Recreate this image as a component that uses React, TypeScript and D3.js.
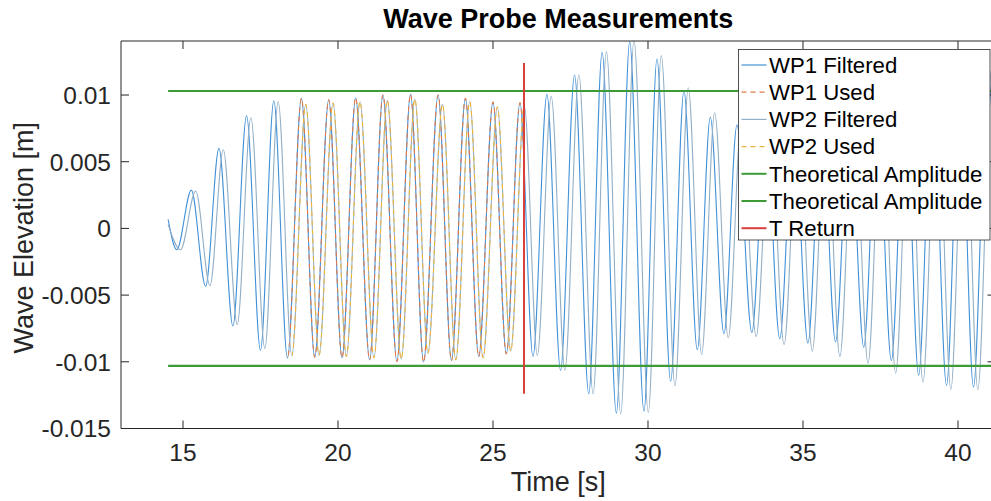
import React from 'react';
import * as d3 from 'd3';

// ---- Data ----
// WP1 filtered: start point followed by successive troughs / crests
const wp1Times = [14.52, 14.80, 15.27, 15.73, 16.16, 16.61, 17.05, 17.50, 17.93, 18.37, 18.82, 19.25, 19.70, 20.13, 20.57, 21.02, 21.45, 21.90, 22.34, 22.76, 23.23, 23.66, 24.11, 24.54, 25.00, 25.43, 25.87, 26.29, 26.74, 27.18, 27.63, 28.09, 28.52, 28.98, 29.41, 29.87, 30.29, 30.73, 31.16, 31.59, 32.01, 32.45, 32.87, 33.35, 33.80, 34.25, 34.70, 35.16, 35.60, 36.05, 36.50, 36.96, 37.40, 37.85, 38.30, 38.73, 39.18, 39.63, 40.07, 40.50, 40.95, 41.40];
const wp1Values = [0.00067, -0.0016, 0.00287, -0.00434, 0.0060, -0.00732, 0.00845, -0.00914, 0.00957, -0.00972, 0.00975, -0.00965, 0.00965, -0.0097, 0.0098, -0.00985, 0.0100, -0.00997, 0.01005, -0.01002, 0.0100, -0.0099, 0.00975, -0.0096, 0.00947, -0.0094, 0.00942, -0.0096, 0.01005, -0.01065, 0.0115, -0.0124, 0.0132, -0.01385, 0.0140, -0.0137, 0.0127, -0.01145, 0.0103, -0.0091, 0.00833, -0.0079, 0.00775, -0.0078, 0.0078, -0.00827, 0.0082, -0.0086, 0.0085, -0.0085, 0.0087, -0.0089, 0.0093, -0.0099, 0.0103, -0.0110, 0.0113, -0.01177, 0.0118, -0.0119, 0.0118, -0.0118];

// WP2 filtered: start point followed by successive troughs / crests
const wp2Times = [14.52, 14.92, 15.41, 15.87, 16.30, 16.75, 17.19, 17.64, 18.07, 18.51, 18.96, 19.39, 19.84, 20.27, 20.71, 21.16, 21.59, 22.04, 22.48, 22.90, 23.37, 23.80, 24.25, 24.68, 25.14, 25.57, 26.01, 26.43, 26.88, 27.32, 27.77, 28.23, 28.66, 29.12, 29.55, 30.01, 30.43, 30.87, 31.30, 31.73, 32.15, 32.59, 33.01, 33.49, 33.94, 34.39, 34.84, 35.30, 35.74, 36.19, 36.64, 37.10, 37.54, 37.99, 38.44, 38.87, 39.32, 39.77, 40.21, 40.64, 41.09, 41.54];
const wp2Values = [0.0003, -0.0016, 0.0028, -0.0043, 0.0059, -0.0072, 0.0083, -0.0090, 0.0095, -0.00955, 0.0093, -0.0095, 0.0094, -0.0096, 0.0095, -0.0097, 0.0096, -0.0098, 0.0097, -0.00935, 0.0093, -0.00985, 0.0095, -0.0097, 0.0091, -0.0092, 0.0092, -0.00952, 0.0099, -0.01065, 0.0115, -0.0124, 0.01325, -0.0139, 0.0141, -0.0138, 0.01295, -0.0118, 0.01055, -0.00945, 0.00867, -0.0082, 0.0080, -0.0081, 0.0080, -0.0087, 0.0085, -0.0092, 0.0088, -0.0096, 0.0091, -0.0101, 0.0097, -0.01085, 0.0106, -0.01152, 0.0115, -0.01207, 0.0120, -0.0121, 0.0120, -0.0120];

const wp1UsedStart = 18.37;
const wp2UsedStart = 18.51;
const tReturn = 26.0;
const tReturnSpan = [-0.0124, 0.0124];
const theoreticalAmplitude = 0.0103;
const theoreticalStart = 14.52;

const xTicks = [15, 20, 25, 30, 35, 40];
const yTicks = [-0.015, -0.01, -0.005, 0, 0.005, 0.01];
const yTickLabels = ['-0.015', '-0.01', '-0.005', '0', '0.005', '0.01'];
const legendLabels = ['WP1 Filtered', 'WP1 Used', 'WP2 Filtered', 'WP2 Used', 'Theoretical Amplitude', 'Theoretical Amplitude', 'T Return'];

const colors = {
  wp1: '#4291d8',
  wp2: '#93afc6',
  used1: '#e07b4a',
  used2: '#efb43c',
  theo: '#3c9a37',
  ret: '#d9403a',
  axis: '#262626',
};

const W = 991;
const H = 501;
const L = 121;
const R = 995.5;
const T = 41;
const B = 428.5;
const FONT = '"Liberation Sans", Arial, Helvetica, sans-serif';

export default function App() {
  const x = d3.scaleLinear().domain([13, 41.21]).range([L, R]);
  const y = d3.scaleLinear().domain([-0.015, 0.01405]).range([B, T]);

  const line = d3
    .line<[number, number]>()
    .x((d) => x(d[0]))
    .y((d) => y(d[1]))
    .curve(d3.curveMonotoneX);

  const wp1Pts: [number, number][] = wp1Times.map((t, i) => [t, wp1Values[i]]);
  const wp2Pts: [number, number][] = wp2Times.map((t, i) => [t, wp2Values[i]]);
  const wp1Path = line(wp1Pts) || '';
  const wp2Path = line(wp2Pts) || '';

  const legendX0 = 738.5;
  const legendX1 = 990;
  const legendY0 = 49.5;
  const legendY1 = 240;
  const rowH = 27.2;
  const legendStyles = [
    { c: colors.wp1, dash: undefined, w: 1.2 },
    { c: colors.used1, dash: '5 4', w: 1.2 },
    { c: colors.wp2, dash: undefined, w: 1.2 },
    { c: colors.used2, dash: '5 4', w: 1.2 },
    { c: colors.theo, dash: undefined, w: 2 },
    { c: colors.theo, dash: undefined, w: 2 },
    { c: colors.ret, dash: undefined, w: 2 },
  ];

  return (
    <svg
      width={W}
      height={H}
      viewBox={`0 0 ${W} ${H}`}
      style={{ position: 'absolute', left: 0, top: 0, background: '#fff' }}
      fontFamily={FONT}
    >
      <defs>
        <clipPath id="plotClip">
          <rect x={L} y={T} width={R - L} height={B - T} />
        </clipPath>
        <clipPath id="used1Clip">
          <rect x={x(wp1UsedStart)} y={T} width={x(tReturn) - x(wp1UsedStart)} height={B - T} />
        </clipPath>
        <clipPath id="used2Clip">
          <rect x={x(wp2UsedStart)} y={T} width={x(tReturn) - x(wp2UsedStart)} height={B - T} />
        </clipPath>
      </defs>
      <rect x={0} y={0} width={W} height={H} fill="#fff" />

      <g clipPath="url(#plotClip)">
        <path d={wp1Path} fill="none" stroke={colors.wp1} strokeWidth={1.1} />
        <g clipPath="url(#used1Clip)">
          <path d={wp1Path} fill="none" stroke={colors.used1} strokeWidth={1.1} strokeDasharray="5 4" />
        </g>
        <path d={wp2Path} fill="none" stroke={colors.wp2} strokeWidth={1.1} />
        <g clipPath="url(#used2Clip)">
          <path d={wp2Path} fill="none" stroke={colors.used2} strokeWidth={1.1} strokeDasharray="5 4" />
        </g>
        <line x1={x(theoreticalStart)} x2={R} y1={y(theoreticalAmplitude)} y2={y(theoreticalAmplitude)} stroke={colors.theo} strokeWidth={2.2} />
        <line x1={x(theoreticalStart)} x2={R} y1={y(-theoreticalAmplitude)} y2={y(-theoreticalAmplitude)} stroke={colors.theo} strokeWidth={2.2} />
        <line x1={x(tReturn)} x2={x(tReturn)} y1={y(tReturnSpan[0])} y2={y(tReturnSpan[1])} stroke={colors.ret} strokeWidth={2} />
      </g>

      {/* axes box */}
      <g stroke={colors.axis} strokeWidth={1} fill="none">
        <line x1={L} x2={R} y1={T} y2={T} />
        <line x1={L} x2={R} y1={B} y2={B} />
        <line x1={L} x2={L} y1={T} y2={B} />
        <line x1={R} x2={R} y1={T} y2={B} />
        {xTicks.map((t) => (
          <g key={'xt' + t}>
            <line x1={x(t)} x2={x(t)} y1={B} y2={B - 8} />
            <line x1={x(t)} x2={x(t)} y1={T} y2={T + 8} />
          </g>
        ))}
        {yTicks.map((t) => (
          <g key={'yt' + t}>
            <line x1={L} x2={L + 8} y1={y(t)} y2={y(t)} />
            <line x1={R} x2={R - 8} y1={y(t)} y2={y(t)} />
          </g>
        ))}
      </g>

      {xTicks.map((t) => (
        <text key={'xl' + t} x={x(t)} y={461} textAnchor="middle" fontSize={24.5} fill={colors.axis}>
          {t}
        </text>
      ))}
      {yTicks.map((t, i) => (
        <text key={'yl' + t} x={111} y={y(t) + 8.8} textAnchor="end" fontSize={24.5} fill={colors.axis}>
          {yTickLabels[i]}
        </text>
      ))}

      <text x={(L + R) / 2} y={491} textAnchor="middle" fontSize={27} fill={colors.axis}>
        Time [s]
      </text>
      <text
        transform={`translate(33, ${(T + B) / 2 + 3}) rotate(-90)`}
        textAnchor="middle"
        fontSize={27}
        fill={colors.axis}
      >
        Wave Elevation [m]
      </text>
      <text x={(L + R) / 2} y={28} textAnchor="middle" fontSize={27} fontWeight="bold" fill="#000">
        Wave Probe Measurements
      </text>

      {/* legend */}
      <rect x={legendX0} y={legendY0} width={legendX1 - legendX0} height={legendY1 - legendY0} fill="#fff" stroke={colors.axis} strokeWidth={0.8} />
      {legendLabels.map((lab, i) => {
        const cy = 65 + i * rowH;
        const s = legendStyles[i];
        return (
          <g key={'lg' + i}>
            <line x1={741.5} x2={766.5} y1={cy} y2={cy} stroke={s.c} strokeWidth={s.w} strokeDasharray={s.dash} />
            <text x={769} y={cy + 7.8} fontSize={22.2} fill="#000">
              {lab}
            </text>
          </g>
        );
      })}
    </svg>
  );
}
